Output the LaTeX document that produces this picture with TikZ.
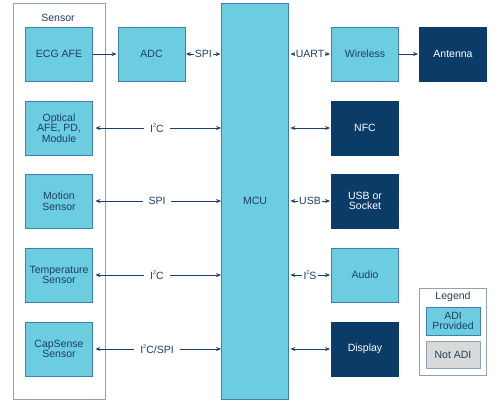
\documentclass[tikz,border=0pt]{standalone}
\usepackage{fontspec}
\setmainfont{Liberation Sans}
\usetikzlibrary{arrows.meta}
\definecolor{adiblue}{HTML}{6CCCE0}
\definecolor{edgeblue}{HTML}{3F7FAE}
\definecolor{navy}{HTML}{0B3C68}
\definecolor{ink}{HTML}{1D3F66}
\definecolor{frame}{HTML}{8FA3B8}
\definecolor{notadi}{HTML}{D9D9D9}
\newcommand{\blockfont}{\fontsize{10.5}{10.5}\selectfont}
\newcommand{\sq}{\raisebox{0.9ex}{\fontsize{5.5}{5.5}\selectfont 2}}
\begin{document}
\begin{tikzpicture}[x=1pt,y=-1pt]
    \tikzset{block/.style = {shape=rectangle,draw=edgeblue,fill=adiblue,text=ink,line width=0.8pt,
        minimum width=67pt,minimum height=54pt,align=center,font=\blockfont,inner sep=1pt}}
    \tikzset{dark/.style = {block,fill=navy,draw=navy,text=white}}
    \tikzset{group/.style = {shape=rectangle,draw=frame,line width=0.9pt}}
    \tikzset{link/.style = {{Stealth[length=5pt,width=4pt]}-{Stealth[length=5pt,width=4pt]},draw=ink,line width=0.8pt}}
    \tikzset{feed/.style = {-{Stealth[length=5pt,width=4pt]},draw=ink,line width=0.8pt}}
    \tikzset{tag/.style = {fill=white,text=ink,font=\blockfont,inner ysep=1pt}}
    \useasboundingbox (0,0) rectangle (500,402);
    % sensor group on the left
    \node[group,minimum width=92pt,minimum height=396pt] (sensor) at (59,201) {};
    \node[text=ink,font=\blockfont] (sensorlabel) at (58,18) {Sensor};
    \node[block] (ecg) at (59,54) {ECG AFE};
    \node[block] (optical) at (59,128) {Optical\\AFE, PD,\\Module};
    \node[block] (motion) at (59,201) {Motion\\Sensor};
    \node[block] (temp) at (59,275) {Temperature\\Sensor};
    \node[block] (capsense) at (59,349) {CapSense\\Sensor};
    \node[block] (adc) at (151.5,54) {ADC};
    % controller in the middle
    \node[block,minimum height=396pt] (mcu) at (255,201) {MCU};
    % blocks on the right
    \node[block] (wireless) at (365,54) {Wireless};
    \node[dark] (antenna) at (453,54) {Antenna};
    \node[dark] (nfc) at (365,128) {NFC};
    \node[dark] (usb) at (365,201) {USB or\\Socket};
    \node[block] (audio) at (365,275) {Audio};
    \node[dark] (display) at (365,349) {Display};
    % legend
    \node[group,minimum width=67pt,minimum height=87pt] (legend) at (453,332) {};
    \node[text=ink,font=\blockfont] (legendlabel) at (453,297) {Legend};
    \node[block,minimum width=54pt,minimum height=28pt] (adi) at (453,321) {ADI\\Provided};
    \node[block,fill=notadi,draw=frame,minimum width=54pt,minimum height=27pt] (notadi) at (453,355) {Not ADI};
    % connections
    \draw[feed,shorten >=1pt] (ecg) -- (adc);
    \draw[link,shorten >=0.5pt,shorten <=0.5pt] (adc.east) -- node[tag,inner xsep=1pt] {SPI} (adc.east -| mcu.west);
    \draw[link,shorten <=2.5pt] (optical.east) -- node[tag,inner xsep=6pt] {I\sq C} (optical.east -| mcu.west);
    \draw[link,shorten <=2.5pt] (motion.east) -- node[tag,inner xsep=6pt] {SPI} (motion.east -| mcu.west);
    \draw[link,shorten <=2.5pt] (temp.east) -- node[tag,inner xsep=6pt] {I\sq C} (temp.east -| mcu.west);
    \draw[link,shorten <=2.5pt] (capsense.east) -- node[tag,inner xsep=6pt] {I\sq C/SPI} (capsense.east -| mcu.west);
    \draw[link,shorten <=1.5pt,shorten >=1pt] (wireless.west -| mcu.east) -- node[tag,inner xsep=1pt] {UART} (wireless.west);
    \draw[link,shorten <=1.5pt,shorten >=1pt] (nfc.west -| mcu.east) -- (nfc.west);
    \draw[link,shorten <=1.5pt,shorten >=1pt] (usb.west -| mcu.east) -- node[tag,inner xsep=1pt] {USB} (usb.west);
    \draw[link,shorten <=1.5pt,shorten >=1pt] (audio.west -| mcu.east) -- node[tag,inner xsep=2pt] {I\sq S} (audio.west);
    \draw[link,shorten <=1.5pt,shorten >=1pt] (display.west -| mcu.east) -- (display.west);
    \draw[feed,shorten >=1pt] (wireless) -- (antenna);
\end{tikzpicture}
\end{document}
